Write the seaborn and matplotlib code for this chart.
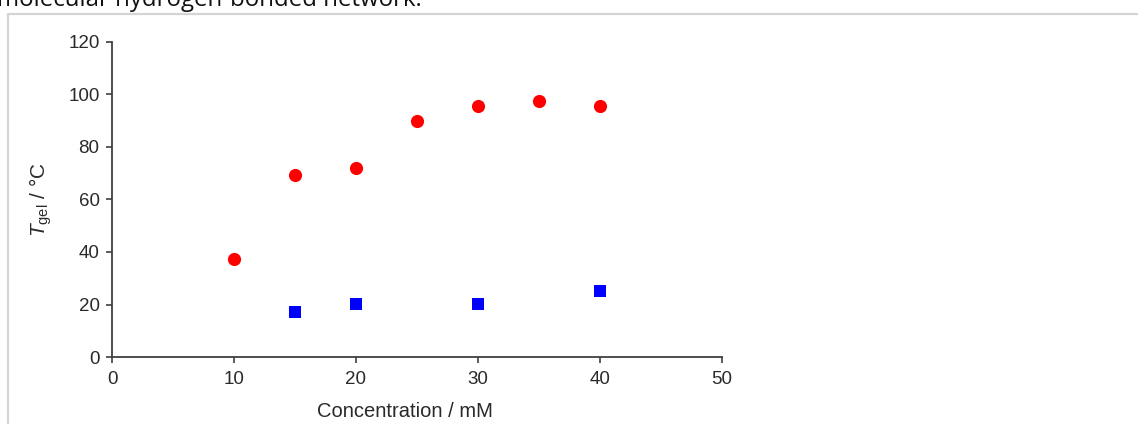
import matplotlib
matplotlib.use("Agg")
import matplotlib.pyplot as plt
from matplotlib.lines import Line2D
import seaborn as sns
import pandas as pd

# data
conc_high = [10, 15, 20, 25, 30, 35, 40]
tgel_high = [37.2, 69.5, 72.0, 89.8, 95.7, 97.7, 95.7]
conc_low = [15, 20, 30, 40]
tgel_low = [17.1, 20.2, 20.2, 25.0]

x_ticks = [0, 10, 20, 30, 40, 50]
y_ticks = [0, 20, 40, 60, 80, 100, 120]

sns.set_style("ticks")
plt.rcParams["font.family"] = ["Liberation Sans", "DejaVu Sans"]
plt.rcParams["mathtext.fontset"] = "custom"
plt.rcParams["mathtext.rm"] = "Liberation Sans"
plt.rcParams["mathtext.it"] = "Liberation Sans:italic"

W, H = 1138, 424
fig = plt.figure(figsize=(W / 100, H / 100), dpi=100)
fig.patch.set_facecolor("white")

# axes placed in pixels: x 0->112, 50->722 ; y 0->357, 120->42
ax = fig.add_axes([112 / W, 1 - 357 / H, (722 - 112) / W, (357 - 42) / H])

df_high = pd.DataFrame({"conc": conc_high, "tgel": tgel_high})
df_low = pd.DataFrame({"conc": conc_low, "tgel": tgel_low})

sns.scatterplot(data=df_high, x="conc", y="tgel", ax=ax, color="#ff0000",
                marker="o", s=90, linewidth=0, clip_on=False)
sns.scatterplot(data=df_low, x="conc", y="tgel", ax=ax, color="#0000ff",
                marker="s", s=85, linewidth=0, clip_on=False)

ax.set_xlim(0, 50)
ax.set_ylim(0, 120)
ax.set_xticks(x_ticks)
ax.set_yticks(y_ticks)
ax.tick_params(axis="both", direction="out", length=4, width=1.2,
               color="#404040", labelsize=13.5, labelcolor="#2a2a2a")
ax.tick_params(axis="x", pad=6)
ax.tick_params(axis="y", pad=5)
for side in ["top", "right"]:
    ax.spines[side].set_visible(False)
for side in ["left", "bottom"]:
    ax.spines[side].set_color("#404040")
    ax.spines[side].set_linewidth(1.3)

ax.set_xlabel("Concentration / mM", fontsize=14.5, color="#2a2a2a")
ax.xaxis.set_label_coords((405 - 112) / 610, -(402 - 357) / 315)
ax.set_ylabel(r"$T_{\rm gel}$ / °C", fontsize=15, color="#2a2a2a")
ax.yaxis.set_label_coords((54 - 112) / 610, 0.5)

# caption line cut off at the top of the crop
fig.text(-3 / W, 1 - 6 / H, "molecular hydrogen-bonded network.",
         fontsize=17.3, family=["Open Sans", "DejaVu Sans"], color="#111111",
         ha="left", va="baseline")

# light grey frame round the figure
frame = "#d4d4d4"
fig.add_artist(Line2D([8 / W, 8 / W], [0, 1 - 14 / H], transform=fig.transFigure,
                      color=frame, lw=1.6))
fig.add_artist(Line2D([8 / W, 1], [1 - 14 / H, 1 - 14 / H], transform=fig.transFigure,
                      color=frame, lw=1.6))

fig.savefig("out.png", dpi=100, facecolor="white")
